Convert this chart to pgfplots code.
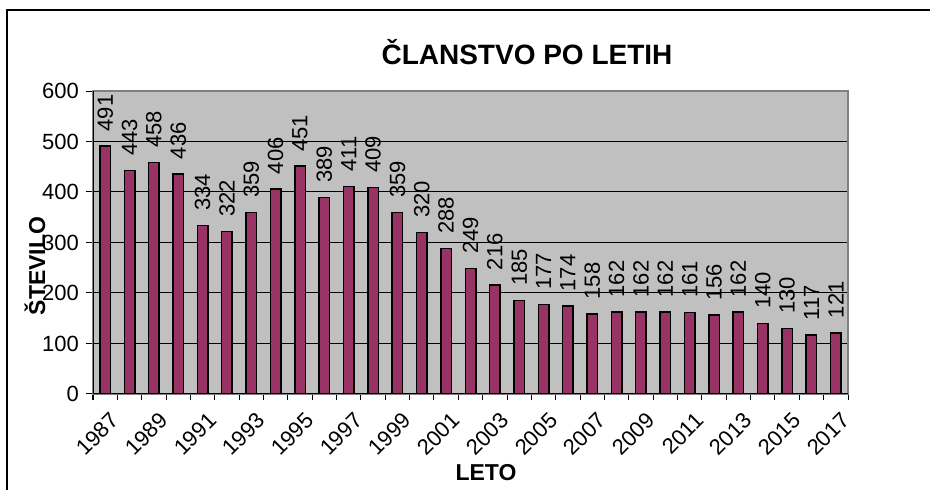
\documentclass[border=0pt]{standalone}
\usepackage{pgfplots}
\pgfplotsset{compat=1.18}
\usepackage{fontspec}
\setmainfont{Liberation Sans}
\definecolor{barfill}{HTML}{993366}
\definecolor{plotbg}{HTML}{C0C0C0}
\begin{document}
\begin{tikzpicture}[x=1pt,y=1pt]
\useasboundingbox (0,0) rectangle (465,245);
\draw[line width=1pt] (3.5,-2) -- (3.5,240) -- (470,240);
\begin{axis}[
  at={(46.5pt,48pt)}, anchor=south west,
  scale only axis, width=377.5pt, height=151.5pt,
  xmin=-0.5, xmax=30.5, ymin=0, ymax=600,
  axis background/.style={fill=plotbg},
  axis line style={draw=gray, line width=0.6pt},
  ybar, bar width=5.25pt,
  xtick={0,2,...,30},
  xticklabels={1987,1989,1991,1993,1995,1997,1999,2001,2003,2005,2007,2009,2011,2013,2015,2017},
  minor xtick={-0.5,0.5,...,30.5},
  major x tick style={draw=none},
  minor tick length=3pt,
  tick align=outside,
  xtick pos=bottom, ytick pos=left,
  ytick={0,100,...,600},
  major tick length=3.5pt,
  tick style={black, line width=0.5pt},
  ymajorgrids, grid style={black, line width=0.5pt},
  xticklabel style={rotate=45, anchor=north east, font=\fontsize{11}{13}\selectfont, inner sep=1pt, yshift=-4pt, xshift=-1pt},
  yticklabel style={font=\fontsize{11}{13}\selectfont},
  /pgf/number format/assume math mode=true,
  nodes near coords,
  every node near coord/.append style={rotate=90, anchor=west, font=\fontsize{11}{13}\selectfont, black, inner xsep=7pt, inner ysep=1pt},
  /pgf/number format/.cd, 1000 sep={},
]
\addplot[fill=barfill, draw=black, line width=0.75pt] coordinates {
(0,491) (1,443) (2,458) (3,436) (4,334) (5,322) (6,359) (7,406) (8,451) (9,389)
(10,411) (11,409) (12,359) (13,320) (14,288) (15,249) (16,216) (17,185) (18,177) (19,174)
(20,158) (21,162) (22,162) (23,162) (24,161) (25,156) (26,162) (27,140) (28,130) (29,117) (30,121)
};
\draw[black, line width=0.6pt] (rel axis cs:0,1) -- (rel axis cs:0,0) -- (rel axis cs:1,0);
\end{axis}
\node[font=\bfseries\fontsize{14}{16}\selectfont] at (263.5,219) {ČLANSTVO PO LETIH};
\node[font=\bfseries\fontsize{11.5}{13}\selectfont, rotate=90] at (17.5,112) {ŠTEVILO};
\node[font=\bfseries\fontsize{11.5}{13}\selectfont] at (243,8.5) {LETO};
\end{tikzpicture}
\end{document}
